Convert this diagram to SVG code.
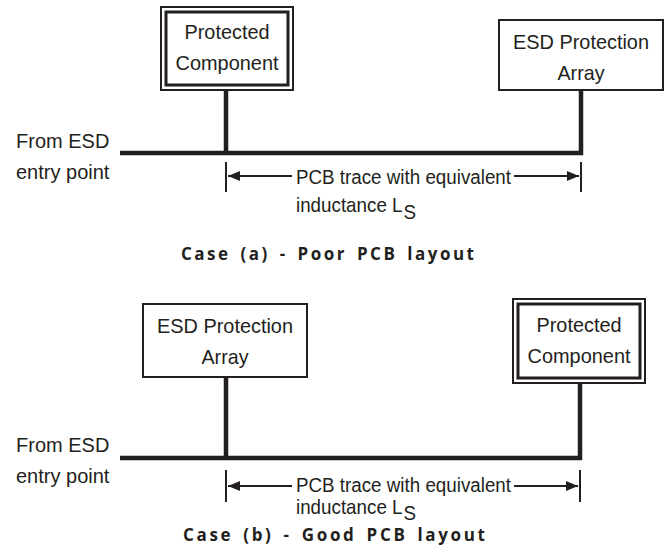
<svg xmlns="http://www.w3.org/2000/svg" width="668" height="546" viewBox="0 0 668 546">
  <defs>
    <style>
      .box { fill: #fff; stroke: #231f20; stroke-width: 2; }
      .inner { fill: none; stroke: #231f20; stroke-width: 3; }
      .wire { stroke: #231f20; stroke-width: 4.5; fill: none; }
      .tick { stroke: #231f20; stroke-width: 2; fill: none; }
      .dim { stroke: #231f20; stroke-width: 2; fill: none; }
      .lbl { font-family: "Liberation Sans", Arial, sans-serif; font-size: 20px; fill: #231f20; }
      .btxt { font-family: "Liberation Sans", Arial, sans-serif; font-size: 21px; fill: #231f20; text-anchor: middle; }
      .cap { font-family: "Open Sans", "DejaVu Sans", sans-serif; font-size: 17px; font-weight: bold; fill: #231f20; word-spacing: 3px; }
    </style>
    <marker id="ah" viewBox="0 0 12 10" refX="12" refY="5" markerWidth="12" markerHeight="10" markerUnits="userSpaceOnUse" orient="auto">
      <path d="M0,0 L12,5 L0,10 Z" fill="#231f20"/>
    </marker>
  </defs>

  <!-- Case (a): poor layout -->
  <g id="a-protected">
    <rect class="box" x="161" y="7" width="132" height="83"/>
    <rect class="inner" x="166" y="12" width="122" height="73"/>
    <text class="btxt" x="227" y="39" textLength="85" lengthAdjust="spacingAndGlyphs">Protected</text>
    <text class="btxt" x="227" y="70" textLength="103" lengthAdjust="spacingAndGlyphs">Component</text>
  </g>
  <g id="a-esd">
    <rect class="box" x="499" y="20" width="164" height="70"/>
    <text class="btxt" x="581" y="49" textLength="136" lengthAdjust="spacingAndGlyphs">ESD Protection</text>
    <text class="btxt" x="581" y="80" textLength="47" lengthAdjust="spacingAndGlyphs">Array</text>
  </g>
  <g id="a-labels">
    <text class="lbl" x="16" y="148">From ESD</text>
    <text class="lbl" x="16" y="179">entry point</text>
    <text class="lbl" x="296" y="184" textLength="215" lengthAdjust="spacingAndGlyphs">PCB trace with equivalent</text>
    <!-- slightly condensed label with subscript -->
    <text class="lbl" transform="translate(296,212) scale(0.94,1)">inductance L<tspan dx="1" dy="7">S</tspan></text>
    <text class="cap" x="181" y="260" textLength="293" lengthAdjust="spacing">Case (a) - Poor PCB layout</text>
  </g>
  <g id="a-connectors">
    <line class="wire" x1="226" y1="90" x2="226" y2="153"/>
    <line class="wire" x1="581" y1="90" x2="581" y2="155"/>
    <line class="wire" x1="120" y1="153" x2="583" y2="153"/>
    <line class="tick" x1="226" y1="162" x2="226" y2="192"/>
    <line class="tick" x1="581" y1="162" x2="581" y2="192"/>
    <line class="dim" x1="292" y1="176" x2="228" y2="176" marker-end="url(#ah)"/>
    <line class="dim" x1="514" y1="176" x2="579" y2="176" marker-end="url(#ah)"/>
  </g>

  <!-- Case (b): good layout -->
  <g id="b-esd">
    <rect class="box" x="143" y="304" width="164" height="73"/>
    <text class="btxt" x="225" y="333" textLength="136" lengthAdjust="spacingAndGlyphs">ESD Protection</text>
    <text class="btxt" x="225" y="364" textLength="47" lengthAdjust="spacingAndGlyphs">Array</text>
  </g>
  <g id="b-protected">
    <rect class="box" x="513" y="299" width="132" height="84"/>
    <rect class="inner" x="518" y="304" width="122" height="74"/>
    <text class="btxt" x="579" y="332" textLength="85" lengthAdjust="spacingAndGlyphs">Protected</text>
    <text class="btxt" x="579" y="363" textLength="103" lengthAdjust="spacingAndGlyphs">Component</text>
  </g>
  <g id="b-labels">
    <text class="lbl" x="16" y="452">From ESD</text>
    <text class="lbl" x="16" y="483">entry point</text>
    <text class="lbl" x="296" y="492" textLength="215" lengthAdjust="spacingAndGlyphs">PCB trace with equivalent</text>
    <text class="lbl" transform="translate(296,514) scale(0.94,1)">inductance L<tspan dx="1" dy="6">S</tspan></text>
    <text class="cap" x="183" y="541" textLength="302" lengthAdjust="spacing">Case (b) - Good PCB layout</text>
  </g>
  <g id="b-connectors">
    <line class="wire" x1="226" y1="377" x2="226" y2="458"/>
    <line class="wire" x1="580" y1="383" x2="580" y2="460"/>
    <line class="wire" x1="120" y1="458" x2="582" y2="458"/>
    <line class="tick" x1="226" y1="470" x2="226" y2="502"/>
    <line class="tick" x1="580" y1="470" x2="580" y2="502"/>
    <line class="dim" x1="292" y1="486" x2="228" y2="486" marker-end="url(#ah)"/>
    <line class="dim" x1="514" y1="486" x2="578" y2="486" marker-end="url(#ah)"/>
  </g>
</svg>
